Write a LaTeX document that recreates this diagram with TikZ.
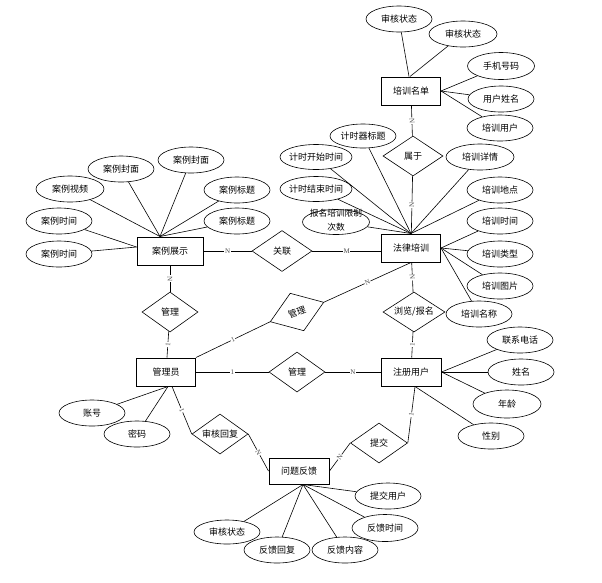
\documentclass[tikz,border=0pt]{standalone}
\usepackage{fontspec}
\newfontfamily\cjk{Noto Sans CJK SC}
\newfontfamily\cardfont{Liberation Serif}
\usetikzlibrary{shapes.geometric}
\tikzset{
 base/.style={font=\cjk\fontsize{9}{10}\selectfont, inner sep=0pt},
 entity/.style={base, draw, line width=1pt, rectangle, minimum width=59pt, minimum height=28pt},
 rel/.style={base, draw, line width=0.6pt, diamond, aspect=1.5, minimum width=57pt, minimum height=40pt},
 attr/.style={base, draw, line width=0.6pt, ellipse, inner xsep=-3pt, minimum width=66pt, minimum height=26pt},
 card/.style={font=\cardfont\fontsize{7}{8}\selectfont, text=black!70, sloped, fill=white, inner sep=0.6pt},
 conn/.style={line width=0.6pt}
}
\begin{document}
\begin{tikzpicture}[x=1pt,y=-1pt]
\fill[white] (0,0) rectangle (602,582);
\useasboundingbox (0,0) rectangle (602,582);
% entities
\node[entity] (pxmd) at (411,91) {培训名单};
\node[entity] (flpx) at (411,248) {法律培训};
\node[entity, minimum width=66pt] (alzs) at (170,251) {案例展示};
\node[entity] (gly) at (166,372) {管理员};
\node[entity, minimum width=60pt] (zcyh) at (411,372) {注册用户};
\node[entity, minimum width=60pt, minimum height=26pt] (wtfk) at (299,471) {问题反馈};
% relationships
\node[rel, minimum width=60pt] (sy) at (413,156) {属于};
\node[rel, minimum width=60pt, minimum height=41pt] (gl) at (282,251) {关联};
\node[rel, minimum width=56pt] (gl1) at (170,312) {管理};
\node[rel, rotate=20] (gl2) at (297,312) {管理};
\node[rel, minimum width=62pt] (lb) at (414,312) {浏览/报名};
\node[rel, minimum width=56pt] (gl3) at (297,372) {管理};
\node[rel, minimum width=56pt] (shhf) at (220,434) {审核回复};
\node[rel] (tj) at (379,443) {提交};
% attributes of 培训名单
\node[attr] (a1) at (399,19) {审核状态};
\node[attr, minimum width=68pt] (a2) at (463,34) {审核状态};
\node[attr, minimum width=67pt, minimum height=27pt] (a3) at (501,66) {手机号码};
\node[attr] (a4) at (501,99) {用户姓名};
\node[attr] (a5) at (500,128) {培训用户};
% attributes of 法律培训
\node[attr, minimum height=24pt] (b1) at (363,136) {计时器标题};
\node[attr, minimum width=72pt, minimum height=25pt] (b2) at (316,157) {计时开始时间};
\node[attr, minimum width=72pt, minimum height=25pt] (b3) at (316,189) {计时结束时间};
\node[attr, minimum width=67pt, minimum height=25pt] (b4) at (336,222) {};
\node[base, align=center, font=\cjk\fontsize{8.7}{14}\selectfont] (b4t) at (336,220) {报名培训限制\\次数};
\node[attr, minimum width=68pt] (b5) at (480,157) {培训详情};
\node[attr] (b6) at (500,190) {培训地点};
\node[attr] (b7) at (500,221) {培训时间};
\node[attr] (b8) at (500,254) {培训类型};
\node[attr] (b9) at (500,286) {培训图片};
\node[attr] (b10) at (479,314) {培训名称};
% attributes of 案例展示
\node[attr, minimum width=68pt] (c1) at (70,189) {案例视频};
\node[attr] (c2) at (121,169) {案例封面};
\node[attr] (c3) at (191,160) {案例封面};
\node[attr] (c4) at (237,190) {案例标题};
\node[attr] (c5) at (237,221) {案例标题};
\node[attr] (c6) at (59,221) {案例时间};
\node[attr] (c7) at (59,254) {案例时间};
% attributes of 注册用户
\node[attr] (d1) at (520,340) {联系电话};
\node[attr] (d2) at (521,372) {姓名};
\node[attr, minimum width=68pt, minimum height=28pt] (d3) at (507,404) {年龄};
\node[attr] (d4) at (491,436) {性别};
% attributes of 管理员
\node[attr] (e1) at (92,413) {账号};
\node[attr] (e2) at (137,434) {密码};
% attributes of 问题反馈
\node[attr] (f1) at (388,496) {提交用户};
\node[attr, minimum height=27pt] (f2) at (385,528) {反馈时间};
\node[attr] (f3) at (345,550) {反馈内容};
\node[attr] (f4) at (277,550) {反馈回复};
\node[attr, minimum height=24pt] (f5) at (227,532) {审核状态};
% attribute connectors
\draw[conn] (a1) -- ([xshift=-2pt]pxmd.north);
\draw[conn] (a2) -- ([xshift=-1pt]pxmd.north);
\foreach \n in {a3,a4,a5} \draw[conn] (\n) -- (pxmd.east);
\foreach \n in {b1,b2,b3,b4,b5,b6} \draw[conn] (\n) -- (flpx.north);
\foreach \n in {b7,b8,b9,b10} \draw[conn] (\n) -- (flpx.east);
\foreach \n in {c1,c2,c3,c4,c5} \draw[conn] (\n) -- ([xshift=-10pt]alzs.north);
\foreach \n in {c6,c7} \draw[conn] (\n) -- ([yshift=4pt]alzs.west);
\foreach \n in {d1,d2,d3} \draw[conn] (\n) -- (zcyh.east);
\draw[conn] (d4) -- ([xshift=4pt]zcyh.south);
\foreach \n in {e1,e2} \draw[conn] (\n) -- ([xshift=2pt]gly.south);
\foreach \n in {f1,f2,f3,f4,f5} \draw[conn] (\n) -- ([xshift=4pt]wtfk.south);
% relationship connectors
\draw[conn] (pxmd) -- node[card]{N} (sy);
\draw[conn] (sy) -- node[card]{N} (flpx);
\draw[conn] (alzs) -- node[card]{N} (gl);
\draw[conn] (gl.east) -- node[card]{M} (gl.east -| flpx.west);
\draw[conn] (alzs) -- node[card]{N} (gl1);
\draw[conn] (gl1) -- node[card]{1} (gly);
\draw[conn] (gly.north east) -- node[card]{1} (gl2.west);
\draw[conn] (gl2.east) -- node[card]{N} (flpx.south);
\draw[conn] (flpx) -- node[card]{N} (lb);
\draw[conn] (lb) -- node[card]{1} (zcyh);
\draw[conn] (gly) -- node[card]{1} (gl3);
\draw[conn] (gl3) -- node[card]{N} (zcyh);
\draw[conn] ([xshift=6pt]gly.south) -- node[card]{1} (shhf.west);
\draw[conn] (shhf.east) -- node[card]{N} (wtfk.west);
\draw[conn] (wtfk.east) -- node[card]{N} (tj.west);
\draw[conn] (tj.east) -- node[card]{1} ([xshift=4pt]zcyh.south);
\end{tikzpicture}
\end{document}
